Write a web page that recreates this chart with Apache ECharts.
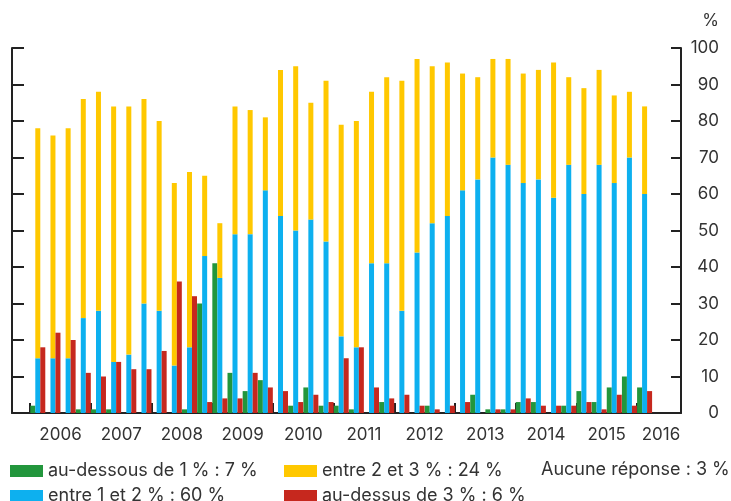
<!DOCTYPE html>
<html>
<head>
<meta charset="utf-8">
<script src="https://cdn.jsdelivr.net/npm/echarts@6/dist/echarts.min.js"></script>
<style>
  html, body { margin: 0; padding: 0; background: #fff; }
  #chart { width: 731px; height: 501px; }
</style>
</head>
<body>
<div id="chart"></div>
<script>
// trimestres 2006 T1 -> 2016 T1
const quarters = [
  '2006-1', '2006-2', '2006-3', '2006-4',
  '2007-1', '2007-2', '2007-3', '2007-4',
  '2008-1', '2008-2', '2008-3', '2008-4',
  '2009-1', '2009-2', '2009-3', '2009-4',
  '2010-1', '2010-2', '2010-3', '2010-4',
  '2011-1', '2011-2', '2011-3', '2011-4',
  '2012-1', '2012-2', '2012-3', '2012-4',
  '2013-1', '2013-2', '2013-3', '2013-4',
  '2014-1', '2014-2', '2014-3', '2014-4',
  '2015-1', '2015-2', '2015-3', '2015-4',
  '2016-1'
]
// au-dessous de 1 %
const below1 = [
  2, 0, 0, 1,
  1, 1, 0, 0,
  0, 0, 1, 30,
  41, 11, 6, 9,
  0, 2, 7, 2,
  2, 1, 0, 3,
  0, 0, 2, 0,
  0, 5, 1, 1,
  3, 3, 0, 2,
  6, 3, 7, 10,
  7
]
// entre 1 et 2 %
const between1and2 = [
  15, 15, 15, 26,
  28, 14, 16, 30,
  28, 13, 18, 43,
  37, 49, 49, 61,
  54, 50, 53, 47,
  21, 18, 41, 41,
  28, 44, 52, 54,
  61, 64, 70, 68,
  63, 64, 59, 68,
  60, 68, 63, 70,
  60
]
// entre 2 et 3 % (empilé sur la barre bleue)
const between2and3 = [
  63, 61, 63, 60,
  60, 70, 68, 56,
  52, 50, 48, 22,
  15, 35, 34, 20,
  40, 45, 32, 44,
  58, 62, 47, 51,
  63, 53, 43, 42,
  32, 28, 27, 29,
  30, 30, 37, 24,
  29, 26, 24, 18,
  24
]
// au-dessus de 3 %
const above3 = [
  18, 22, 20, 11,
  10, 14, 12, 12,
  17, 36, 32, 3,
  4, 4, 11, 7,
  6, 3, 5, 3,
  15, 18, 7, 4,
  5, 2, 1, 2,
  3, 0, 1, 1,
  4, 2, 2, 2,
  3, 1, 5, 2,
  6
]
const years = [2006, 2007, 2008, 2009, 2010, 2011, 2012, 2013, 2014, 2015, 2016]
const seriesNames = [
  'au-dessous de 1 % : 7 %',
  'entre 1 et 2 % : 60 %',
  'entre 2 et 3 % : 24 %',
  'au-dessus de 3 % : 6 %'
]
const noAnswer = 'Aucune réponse : 3 %'

const colors = ['#22963c', '#0db0ef', '#ffc800', '#c6281e']
const font = "Inter, 'Liberation Sans', Arial, sans-serif"
const textColor = '#333'
const axisColor = '#222'

// cadre : axe des années un peu plus large que la période couverte
const xMin = 2005.70
const xMax = 2016.725
const frame = { left: 12, right: 50, top: 48, bottom: 88 }
const frameWidth = 731 - frame.left - frame.right
const pxPerYear = frameWidth / (xMax - xMin)
// grille des barres : de 2006 T1 à la fin de 2016 T1
const barLeft = frame.left + (2006 - xMin) * pxPerYear
const barRight = frame.left + (2016.25 - xMin) * pxPerYear
const labelAt = years.map(y => Math.min(y + 0.5, xMax - 0.33))

const chart = echarts.init(document.getElementById('chart'), null, { renderer: 'canvas' })

const barBase = {
  type: 'bar',
  xAxisIndex: 1,
  yAxisIndex: 2,
  barWidth: 5,
  barGap: '0%',
  itemStyle: { borderWidth: 0 }
}

const legendBase = {
  orient: 'vertical',
  top: 462,
  height: 60,
  padding: 0,
  itemWidth: 33,
  itemHeight: 12,
  itemGap: 7,
  icon: 'rect',
  textStyle: { fontSize: 18, lineHeight: 17, fontFamily: font, color: textColor }
}

const option = {
  animation: false,
  textStyle: { fontFamily: font },
  title: {
    text: '%',
    right: 7,
    top: 7,
    textStyle: { fontFamily: font, fontSize: 17, fontWeight: 'normal', color: textColor }
  },
  grid: [
    { left: frame.left, right: frame.right, top: frame.top, bottom: frame.bottom },
    { left: barLeft, right: 731 - barRight, top: frame.top, bottom: frame.bottom }
  ],
  xAxis: [
    {
      gridIndex: 0,
      type: 'value',
      min: xMin,
      max: xMax,
      splitLine: { show: false },
      axisLine: { show: true, onZero: false, lineStyle: { color: axisColor, width: 2 } },
      axisTick: {
        show: true,
        inside: true,
        length: 10,
        customValues: years,
        lineStyle: { color: axisColor, width: 2 }
      },
      axisLabel: {
        customValues: labelAt,
        formatter: v => String(Math.floor(v)),
        margin: 13,
        fontSize: 17,
        fontFamily: font,
        color: textColor
      }
    },
    {
      gridIndex: 1,
      type: 'category',
      data: quarters,
      show: false
    }
  ],
  yAxis: [
    {
      gridIndex: 0,
      type: 'value',
      position: 'left',
      min: 0,
      max: 100,
      interval: 10,
      splitLine: { show: false },
      axisLine: { show: true, lineStyle: { color: axisColor, width: 2 } },
      axisTick: { show: true, inside: true, length: 12, lineStyle: { color: axisColor, width: 2 } },
      axisLabel: { show: false }
    },
    {
      gridIndex: 0,
      type: 'value',
      position: 'right',
      min: 0,
      max: 100,
      interval: 10,
      splitLine: { show: false },
      axisLine: { show: true, lineStyle: { color: axisColor, width: 2 } },
      axisTick: { show: true, inside: true, length: 10, lineStyle: { color: axisColor, width: 2 } },
      axisLabel: {
        align: 'right',
        margin: 38,
        fontSize: 17,
        fontFamily: font,
        color: textColor
      }
    },
    {
      gridIndex: 1,
      type: 'value',
      min: 0,
      max: 100,
      show: false
    }
  ],
  legend: [
    Object.assign({}, legendBase, { left: 10, data: [seriesNames[0], seriesNames[1]] }),
    Object.assign({}, legendBase, { left: 284, data: [seriesNames[2], seriesNames[3]] })
  ],
  graphic: [
    {
      type: 'text',
      left: 541,
      top: 461,
      style: { text: noAnswer, fontSize: 18, fontFamily: font, fill: textColor }
    }
  ],
  series: [
    Object.assign({}, barBase, {
      name: seriesNames[0],
      data: below1,
      itemStyle: { color: colors[0] }
    }),
    Object.assign({}, barBase, {
      name: seriesNames[1],
      stack: 'mid',
      data: between1and2,
      itemStyle: { color: colors[1] }
    }),
    Object.assign({}, barBase, {
      name: seriesNames[2],
      stack: 'mid',
      data: between2and3,
      itemStyle: { color: colors[2] }
    }),
    Object.assign({}, barBase, {
      name: seriesNames[3],
      data: above3,
      itemStyle: { color: colors[3] }
    })
  ]
}

chart.setOption(option)
</script>
</body>
</html>
